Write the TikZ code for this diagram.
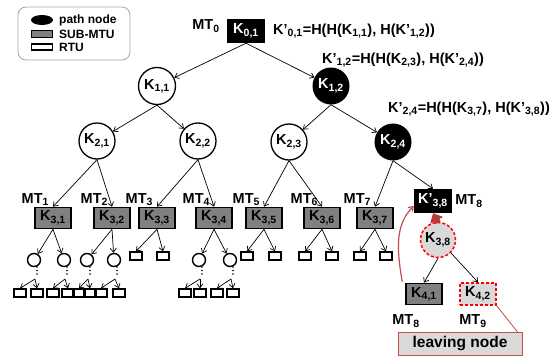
\documentclass[tikz,border=0pt]{standalone}
\usepackage{fontspec}
\setmainfont{Liberation Sans}
\usetikzlibrary{shapes.geometric,arrows.meta,calc}
\definecolor{mtugray}{RGB}{128,128,128}
\definecolor{lgray}{RGB}{217,217,217}
\definecolor{softred}{RGB}{192,80,77}
\definecolor{darkred}{RGB}{180,60,57}
\definecolor{legframe}{RGB}{165,165,165}
\newcommand\sbs[1]{\textsubscript{\fontsize{10.5}{11}\selectfont #1}}
\begin{document}
\begin{tikzpicture}[x=1pt,y=-1pt,
  every node/.style={font=\bfseries\fontsize{14.5}{16}\selectfont, inner sep=0pt},
  pathbox/.style={rectangle, fill=black, text=white, minimum width=38pt, minimum height=24pt},
  mtubox/.style={rectangle, draw=black, line width=1.6pt, fill=mtugray, minimum width=36pt, minimum height=21pt},
  rtuc/.style={circle, draw=black, line width=1.3pt, fill=white, minimum size=36pt},
  pathc/.style={circle, fill=black, text=white, minimum size=37pt},
  leafc/.style={circle, draw=black, line width=1.4pt, minimum size=13pt},
  leafr/.style={rectangle, draw=black, line width=1.4pt, minimum width=12pt, minimum height=8pt},
  conn/.style={line width=0.7pt, -{Straight Barb[length=4pt,width=6pt]}},
  mtlab/.style={anchor=south east},
  formula/.style={anchor=west},
  legtext/.style={anchor=west, font=\bfseries\fontsize{12}{13}\selectfont},
  reddash/.style={draw=red, line width=1.5pt, dash pattern=on 3pt off 2pt},
]
\useasboundingbox (0,0) rectangle (553,356);

% legend
\node[draw=legframe, line width=0.8pt, rounded corners=8pt, minimum width=112pt, minimum height=53pt] (legend) at (74,33.5) {};
\node[ellipse, fill=black, minimum width=22pt, minimum height=10pt] (legpath) at (42,20) {};
\node[rectangle, draw=black, line width=1.2pt, fill=mtugray, minimum width=21pt, minimum height=7pt] (legmtu) at (42,34) {};
\node[rectangle, draw=black, line width=1.2pt, fill=white, minimum width=21pt, minimum height=6pt] (legrtu) at (42,47) {};
\node[legtext] (lt1) at (59,20) {path node};
\node[legtext] (lt2) at (59,34) {SUB-MTU};
\node[legtext] (lt3) at (59,47) {RTU};

% tree
\node[pathbox] (root) at (246,31) {K\sbs{0,1}};
\node[anchor=east] (mt0) at ($(root.west)+(-7,-5)$) {MT\sbs{0}};
\node[formula] (f1) at (273,31) {K'\sbs{0,1}=H(H(K\sbs{1,1}), H(K'\sbs{1,2}))};

\node[rtuc, minimum size=37pt] (K11) at (157,86) {K\sbs{1,1}};
\node[pathc] (K12) at (331,86) {K\sbs{1,2}};
\node[formula] (f2) at (322,60) {K'\sbs{1,2}=H(H(K\sbs{2,3}), H(K'\sbs{2,4}))};

\node[rtuc] (K21) at (97,141) {K\sbs{2,1}};
\node[rtuc] (K22) at (198,141) {K\sbs{2,2}};
\node[rtuc] (K23) at (289,142) {K\sbs{2,3}};
\node[pathc] (K24) at (393,142) {K\sbs{2,4}};
\node[formula] (f3) at (388,109) {K'\sbs{2,4}=H(H(K\sbs{3,7}), H(K'\sbs{3,8}))};

\node[mtubox] (K31) at (53,218) {K\sbs{3,1}};
\node[mtubox] (K32) at (112,218) {K\sbs{3,2}};
\node[mtubox] (K33) at (157,218) {K\sbs{3,3}};
\node[mtubox] (K34) at (214,218) {K\sbs{3,4}};
\node[mtubox] (K35) at (264,218) {K\sbs{3,5}};
\node[mtubox] (K36) at (322,218) {K\sbs{3,6}};
\node[mtubox] (K37) at (375,218) {K\sbs{3,7}};
\node[pathbox] (K38p) at (433,201) {K'\sbs{3,8}};
\node[anchor=west] (mt8a) at ($(K38p.east)+(3,0)$) {MT\sbs{8}};

\foreach \n/\k in {K31/1,K32/2,K33/3,K34/4,K35/5,K36/6,K37/7}
  \node[mtlab] (mt\k) at ($(\n.north west)+(15,-1)$) {MT\sbs{\k}};

% edges upper levels
\draw[conn] (root.south) -- (K11);
\draw[conn] (root.south) -- (K12);
\draw[conn] (K11.south) -- (K21);
\draw[conn] (K11.south) -- (K22);
\draw[conn] (K12.south) -- (K23);
\draw[conn] (K12.south) -- (K24);
\draw[conn] (K21.south) -- (K31.north);
\draw[conn] (K21.south) -- (K32.north);
\draw[conn] (K22.south) -- (K33.north);
\draw[conn] (K22.south) -- (K34.north);
\draw[conn] (K23.south) -- (K35.north);
\draw[conn] (K23.south) -- (K36.north);
\draw[conn] (K24.south) -- (K37.north);
\draw[conn] (K24.south) -- (K38p.north);

% leaf circles with dots and forks
\foreach \i/\cx/\la/\lb in {1/34/20/37, 2/64/53/68, 3/87/79/90, 4/114/101/119, 5/199/185/200, 6/230/217/233}{
  \node[leafc] (c\i) at (\cx,260) {};
  \foreach \dy in {267,270.5,274} \fill (\cx+3,\dy) circle (0.9pt);
  \coordinate (fk\i) at (\cx+1,279);
  \node[leafr] (b\i-a) at (\la,293) {};
  \node[leafr] (b\i-b) at (\lb,293) {};
  \draw[conn] (fk\i) -- (b\i-a.north);
  \draw[conn] (fk\i) -- (b\i-b.north);
}
\draw[conn] (K31.south) -- (c1);
\draw[conn] (K31.south) -- (c2);
\draw[conn] (K32.south) -- (c3);
\draw[conn] (K32.south) -- (c4);
\draw[conn] (K34.south) -- (c5);
\draw[conn] (K34.south) -- (c6);

% small leaf rectangles
\foreach \n/\xa/\xb in {K33/136/163, K35/247/275, K36/305/332, K37/360/386}{
  \node[leafr] (\n-a) at (\xa,256) {};
  \node[leafr] (\n-b) at (\xb,256) {};
  \draw[conn] (\n.south) -- (\n-a.north);
  \draw[conn] (\n.south) -- (\n-b.north);
}

% leaving part
\node[circle, reddash, fill=lgray, minimum size=35pt] (K38) at (438,240) {K\sbs{3,8}};
\draw[darkred, line width=6pt, -{Triangle[length=8pt,width=14pt]}] ($(K38.north)+(0,1)$) -- (K38p.south);
\node[mtubox] (K41) at (424,294) {K\sbs{4,1}};
\node[rectangle, reddash, fill=lgray, minimum width=36pt, minimum height=22pt] (K42) at (478,294) {K\sbs{4,2}};
\node (mt8b) at (406,321) {MT\sbs{8}};
\node (mt9) at (473,321) {MT\sbs{9}};
\draw[conn] (K38.south) -- (K41.north);
\draw[conn] (K38.south east) -- (K42.north);
\draw[softred, line width=1.2pt, -{Straight Barb[length=4pt,width=6pt]}]
  ($(K41.north west)+(-3,-1)$) .. controls +(-6,-35) and +(-18,18) .. ($(K38p.west)+(0,5)$);
\node[rectangle, draw=softred, line width=1pt, fill=lgray, minimum width=124pt, minimum height=23pt,
  font=\bfseries\fontsize{15.5}{17}\selectfont] (leave) at (460,344) {leaving node};
\draw[softred, line width=0.8pt] (K42.south east) -- ($(leave.north east)+(-5,0)$);
\end{tikzpicture}
\end{document}
